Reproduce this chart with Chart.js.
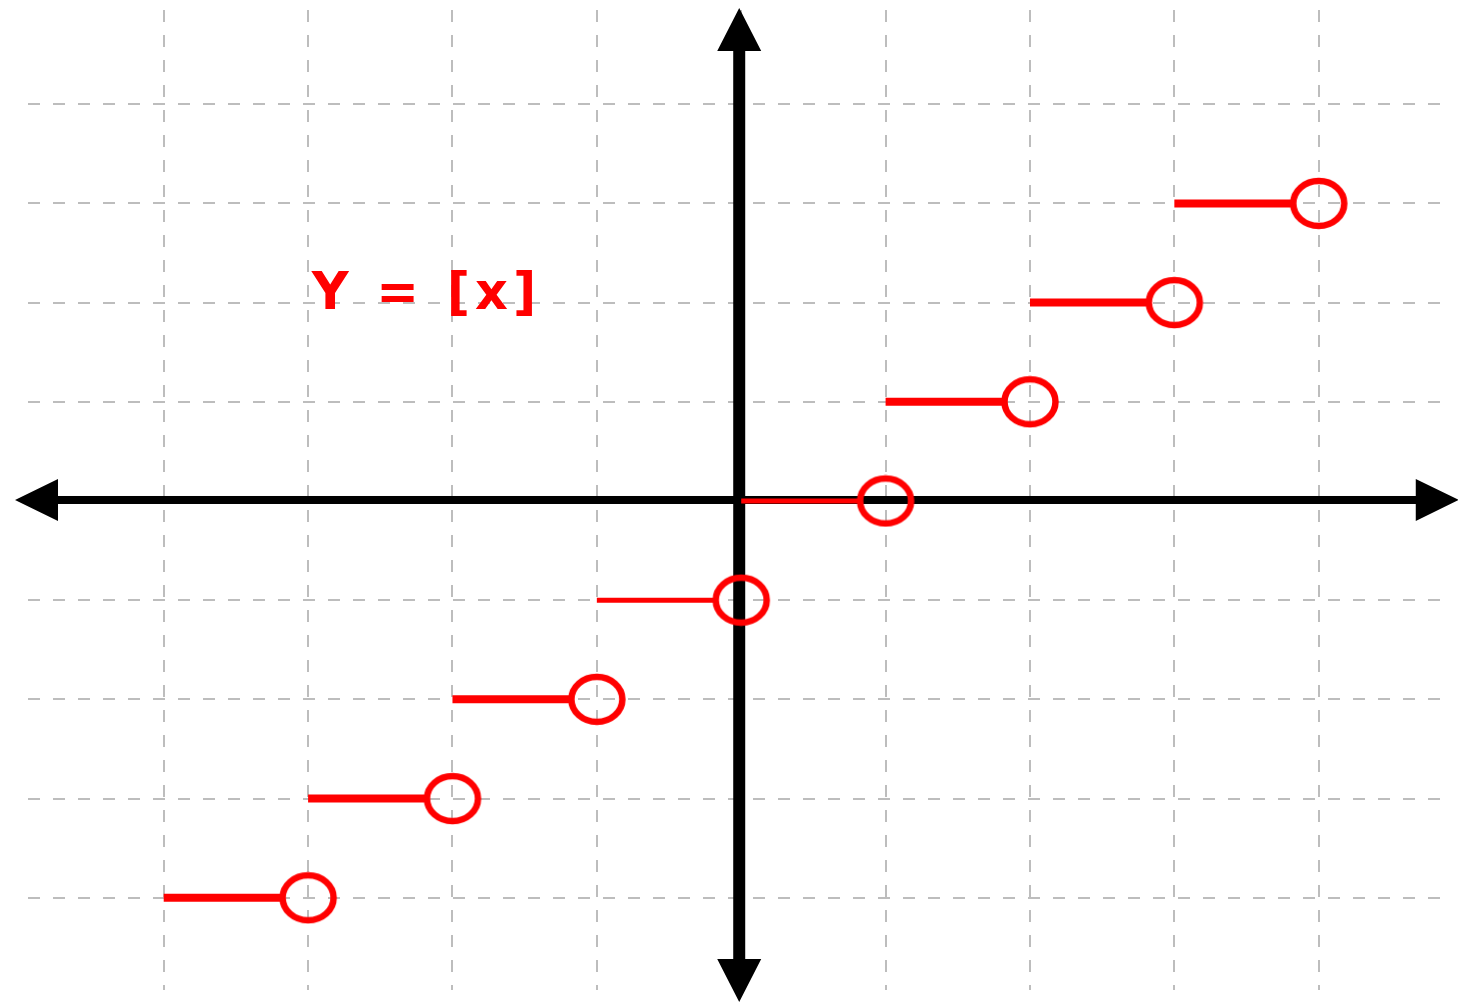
<!DOCTYPE html>
<html>
<head>
<meta charset="utf-8">
<title>Y = [x]</title>
<script src="https://cdn.jsdelivr.net/npm/chart.js@4/dist/chart.umd.min.js"></script>
<style>
  html, body { margin: 0; padding: 0; background: #fff; }
  #chart { display: block; }
</style>
</head>
<body>
<canvas id="chart" width="1458" height="1003"></canvas>
<script>
// step data: y = [x] on each unit interval
const stepStarts = [-4, -3, -2, -1, 0, 1, 2, 3]
const stepEnds   = [-3, -2, -1, 0, 1, 2, 3, 4]
const stepValues = [-4, -3, -2, -1, 0, 1, 2, 3]
const stepWidths = [8, 8, 8, 5, 5, 8, 8, 8]

const gridTicks = [-4, -3, -2, -1, 0, 1, 2, 3, 4]
const labelText = "Y = [x]"
const labelPos  = { x: -2.18, y: 2.07 }

const red       = "#FF0000"
const gridColor = "#BDBDBD"
const ringGap   = 0.18

// open circle as a small elliptical ring
const ring = document.createElement("canvas")
ring.width = 60
ring.height = 53
{
  const c = ring.getContext("2d")
  c.strokeStyle = red
  c.lineWidth = 6.5
  c.beginPath()
  c.ellipse(30, 26.5, 25.5, 22.5, 0, 0, Math.PI * 2)
  c.stroke()
}

const datasets = stepStarts.map((s, i) => ({
  type: "line",
  data: [
    { x: s, y: stepValues[i] },
    { x: stepEnds[i] - ringGap, y: stepValues[i] }
  ],
  borderColor: red,
  borderWidth: stepWidths[i],
  borderCapStyle: "butt",
  pointRadius: 0,
  fill: false
}))

datasets.push({
  type: "scatter",
  data: stepEnds.map((e, i) => ({ x: e, y: stepValues[i] })),
  pointStyle: ring,
  pointRadius: 25,
  pointHoverRadius: 25
})

const axesPlugin = {
  id: "axes",
  beforeDatasetsDraw(chart) {
    const { ctx, scales: { x, y } } = chart
    const x0 = x.getPixelForValue(0) - 2
    const y0 = y.getPixelForValue(0) - 1
    const left   = x.getPixelForValue(-5.03)
    const right  = x.getPixelForValue(4.97)
    const top    = y.getPixelForValue(4.97)
    const bottom = y.getPixelForValue(-5.05)
    const len = 43, half = 21

    ctx.save()
    ctx.fillStyle = "#000"
    ctx.fillRect(left + len - 2, y0 - 4, right - left - 2 * len + 4, 8)
    ctx.fillRect(x0 - 6, top + len - 2, 12, bottom - top - 2 * len + 4)

    ctx.beginPath()
    ctx.moveTo(left, y0); ctx.lineTo(left + len, y0 - half); ctx.lineTo(left + len, y0 + half)
    ctx.closePath()
    ctx.moveTo(right, y0); ctx.lineTo(right - len, y0 - half); ctx.lineTo(right - len, y0 + half)
    ctx.closePath()
    ctx.moveTo(x0, top); ctx.lineTo(x0 - half - 1, top + len); ctx.lineTo(x0 + half + 1, top + len)
    ctx.closePath()
    ctx.moveTo(x0, bottom); ctx.lineTo(x0 - half - 1, bottom - len); ctx.lineTo(x0 + half + 1, bottom - len)
    ctx.closePath()
    ctx.fill()
    ctx.restore()
  },
  afterDatasetsDraw(chart) {
    const { ctx, scales: { x, y } } = chart
    ctx.save()
    ctx.fillStyle = red
    ctx.font = "bold 51px 'DejaVu Sans'"
    ctx.letterSpacing = "5px"
    ctx.textAlign = "center"
    ctx.textBaseline = "middle"
    ctx.fillText(labelText, x.getPixelForValue(labelPos.x), y.getPixelForValue(labelPos.y))
    ctx.restore()
  }
}

const gridAxis = (min, max) => ({
  type: "linear",
  min, max,
  afterBuildTicks: axis => { axis.ticks = gridTicks.map(v => ({ value: v })) },
  ticks: { display: false },
  border: { display: false, dash: [12, 13] },
  grid: {
    color: gridColor,
    lineWidth: 2,
    drawTicks: false
  }
})

new Chart(document.getElementById("chart"), {
  type: "scatter",
  data: { datasets },
  options: {
    responsive: false,
    animation: false,
    layout: { autoPadding: false, padding: { left: 28, right: 18, top: 10, bottom: 13 } },
    plugins: { legend: { display: false }, tooltip: { enabled: false } },
    scales: { x: gridAxis(-4.94, 4.84), y: gridAxis(-4.93, 4.95) }
  },
  plugins: [axesPlugin]
})
</script>
</body>
</html>
